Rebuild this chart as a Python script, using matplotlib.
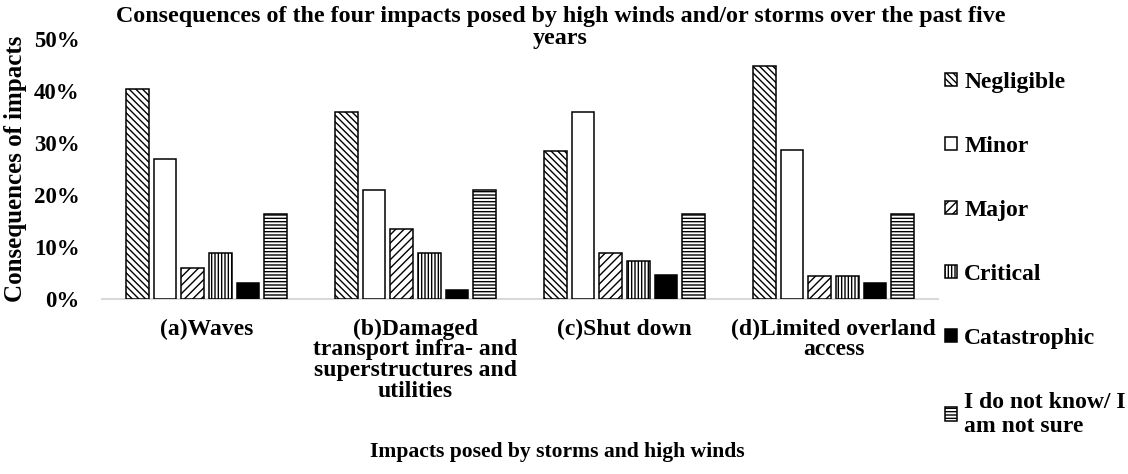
import numpy as np
import matplotlib
matplotlib.use("Agg")
import matplotlib.pyplot as plt
from matplotlib.ticker import PercentFormatter

plt.rcParams["font.family"] = ["Liberation Serif", "DejaVu Serif"]
plt.rcParams["font.weight"] = "bold"
plt.rcParams["hatch.linewidth"] = 1.0

impacts = [
  "(a)Waves",
  "(b)Damaged\ntransport infra- and\nsuperstructures and\nutilities",
  "(c)Shut down",
  "(d)Limited overland\naccess",
]
levels = ["Negligible", "Minor", "Major", "Critical", "Catastrophic", "I do not know/ I\nam not sure"]

# share of respondents per consequence level, one list per level across the four impacts
negligible = [40.4, 35.9, 28.5, 44.9]
minor = [26.9, 21.0, 35.9, 28.6]
major = [6.0, 13.5, 8.9, 4.5]
critical = [8.9, 8.9, 7.4, 4.5]
catastrophic = [3.1, 1.7, 4.6, 3.1]
not_sure = [16.4, 21.0, 16.4, 16.4]

series = [negligible, minor, major, critical, catastrophic, not_sure]
hatches = ["\\\\\\\\\\", "", "////", "|||||", "", "-----"]
faces = ["white", "white", "white", "white", "black", "white"]

fig = plt.figure(figsize=(11.28, 4.74), dpi=100)
ax = fig.add_axes([0.0904, 0.3692, 0.7412, 0.5485])

x = np.arange(len(impacts))
step = 0.1325
width = 0.108
for i, (vals, label) in enumerate(zip(series, levels)):
  ax.bar(x + (i - 2.5) * step, vals, width, label=label, facecolor=faces[i],
         edgecolor="black", linewidth=1.1, hatch=hatches[i], zorder=3)

ax.set_xlim(-0.5, 3.5)
ax.set_ylim(0, 50)
ax.set_yticks(np.arange(0, 51, 10))
ax.yaxis.set_major_formatter(PercentFormatter(decimals=0))
ax.set_xticks(x)
ax.set_xticklabels(impacts, fontsize=17, linespacing=0.98)
ax.tick_params(axis="x", length=0, pad=14)
ax.tick_params(axis="y", length=0, pad=16, labelsize=16.5)
for side in ["top", "right", "left"]:
  ax.spines[side].set_visible(False)
ax.spines["bottom"].set_color("#d9d9d9")
ax.spines["bottom"].set_linewidth(1.5)

ax.set_ylabel("Consequences of impacts", fontsize=18, fontweight="bold")
ax.yaxis.set_label_coords(-0.0897, 0.5)
fig.text(0.497, 0.941, "Consequences of the four impacts posed by high winds and/or storms over the past five\nyears",
         ha="center", va="center", fontsize=17.3, linespacing=1.06)
fig.text(0.494, 0.046, "Impacts posed by storms and high winds", ha="center", va="center", fontsize=15.6)

fig.legend(loc="upper left", bbox_to_anchor=(0.8297, 0.868), frameon=False, fontsize=17,
           handlelength=0.5, handleheight=0.5, handletextpad=0.3, labelspacing=1.82,
           borderaxespad=0)

fig.savefig("out.png", dpi=100)
